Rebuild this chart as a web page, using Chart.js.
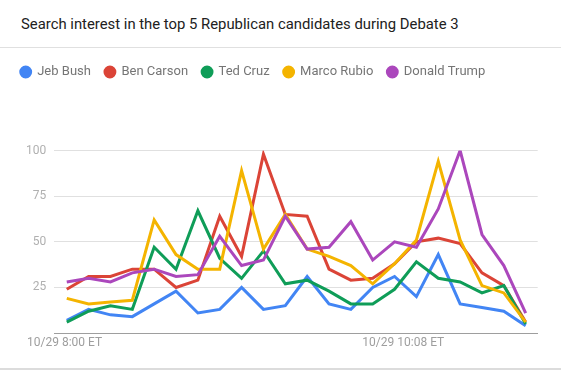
<!DOCTYPE html>
<html>
<head>
<meta charset="utf-8">
<script src="https://cdn.jsdelivr.net/npm/chart.js@4.4.1/dist/chart.umd.min.js"></script>
<style>
  body { margin: 0; background: #fff; font-family: Roboto, sans-serif; }
  #head { height: 47px; line-height: 48px; padding-left: 21px; font-size: 14.85px; color: #212121; border-bottom: 1px solid #e0e0e0; white-space: nowrap; }
  #box { position: relative; width: 561px; height: 320px; border-bottom: 2px solid #dcdcdc; }
</style>
</head>
<body>
<div id="head">Search interest in the top 5 Republican candidates during Debate 3</div>
<div id="box"><canvas id="trendChart"></canvas></div>
<script>
// one point every ~8 minutes, starting 10/29 8:00 ET
const candidates = ['Jeb Bush', 'Ben Carson', 'Ted Cruz', 'Marco Rubio', 'Donald Trump'];
const colors = ['#4285f4', '#db4437', '#0f9d58', '#f4b400', '#ab47bc'];

const bush   = [7, 13, 10, 9, 16, 23, 11, 13, 25, 13, 15, 31, 16, 13, 25, 31, 20, 43, 16, 14, 12, 4];
const carson = [24, 31, 31, 35, 35, 25, 29, 64, 42, 98, 65, 64, 35, 29, 30, 38, 50, 52, 49, 33, 26, 6];
const cruz   = [6, 12, 15, 13, 47, 35, 67, 41, 30, 45, 27, 29, 23, 16, 16, 24, 39, 30, 28, 22, 26, 5];
const rubio  = [19, 16, 17, 18, 62, 43, 35, 35, 89, 46, 65, 46, 42, 37, 27, 38, 51, 94, 51, 26, 22, 6];
const trump  = [28, 30, 28, 33, 35, 31, 32, 53, 37, 40, 64, 46, 47, 61, 40, 50, 47, 68, 100, 54, 37, 11];

const xTickPos = [-0.1, 15.4];
const xTickLabels = ['10/29 8:00 ET', '10/29 10:08 ET'];
const yTicks = [25, 50, 75, 100];

const series = [bush, carson, cruz, rubio, trump];

// push the plot down below the legend
const legendSpacer = {
    id: 'legendSpacer',
    beforeInit(chart) {
        const origFit = chart.legend.fit;
        chart.legend.fit = function () {
            origFit.bind(chart.legend)();
            this.height += 62;
        };
    }
};

const ctx = document.getElementById('trendChart').getContext('2d');
const trendChart = new Chart(ctx, {
    type: 'line',
    data: {
        datasets: series.map((vals, i) => ({
            label: candidates[i],
            data: vals.map((v, j) => ({ x: j, y: v })),
            borderColor: colors[i],
            backgroundColor: colors[i],
            borderWidth: 3,
            pointRadius: 0,
            tension: 0,
            order: series.length - i // later series on top
        }))
    },
    options: {
        responsive: true,
        maintainAspectRatio: false,
        animation: false,
        layout: { padding: { top: 3.5, left: 6.7, right: 23.3, bottom: 14.5 } },
        plugins: {
            legend: {
                position: 'top',
                align: 'start',
                labels: {
                    usePointStyle: true,
                    pointStyle: 'circle',
                    boxWidth: 10,
                    boxHeight: 7,
                    padding: 14,
                    color: '#757575',
                    font: { family: 'Roboto', size: 13 },
                    sort: (a, b) => a.datasetIndex - b.datasetIndex
                }
            },
            tooltip: { enabled: false }
        },
        scales: {
            x: {
                type: 'linear',
                min: -0.57,
                max: 21.55,
                grid: { display: false, drawTicks: false },
                border: { display: true, color: '#9e9e9e', width: 1 },
                afterBuildTicks: scale => {
                    scale.ticks = xTickPos.map(v => ({ value: v }));
                },
                ticks: {
                    autoSkip: false,
                    maxRotation: 0,
                    padding: 3,
                    color: '#9e9e9e',
                    font: { family: 'Roboto', size: 12 },
                    callback: (value, index) => xTickLabels[index]
                }
            },
            y: {
                min: 0,
                max: 100,
                grid: { color: '#e0e0e0', lineWidth: 1, drawTicks: false },
                border: { display: false },
                afterBuildTicks: scale => {
                    scale.ticks = yTicks.map(v => ({ value: v }));
                },
                afterFit: scale => {
                    scale.width = 47.6;
                },
                ticks: {
                    padding: 8,
                    color: '#b0b0b0',
                    font: { family: 'Roboto', size: 12 }
                }
            }
        }
    },
    plugins: [legendSpacer]
});
</script>
</body>
</html>
